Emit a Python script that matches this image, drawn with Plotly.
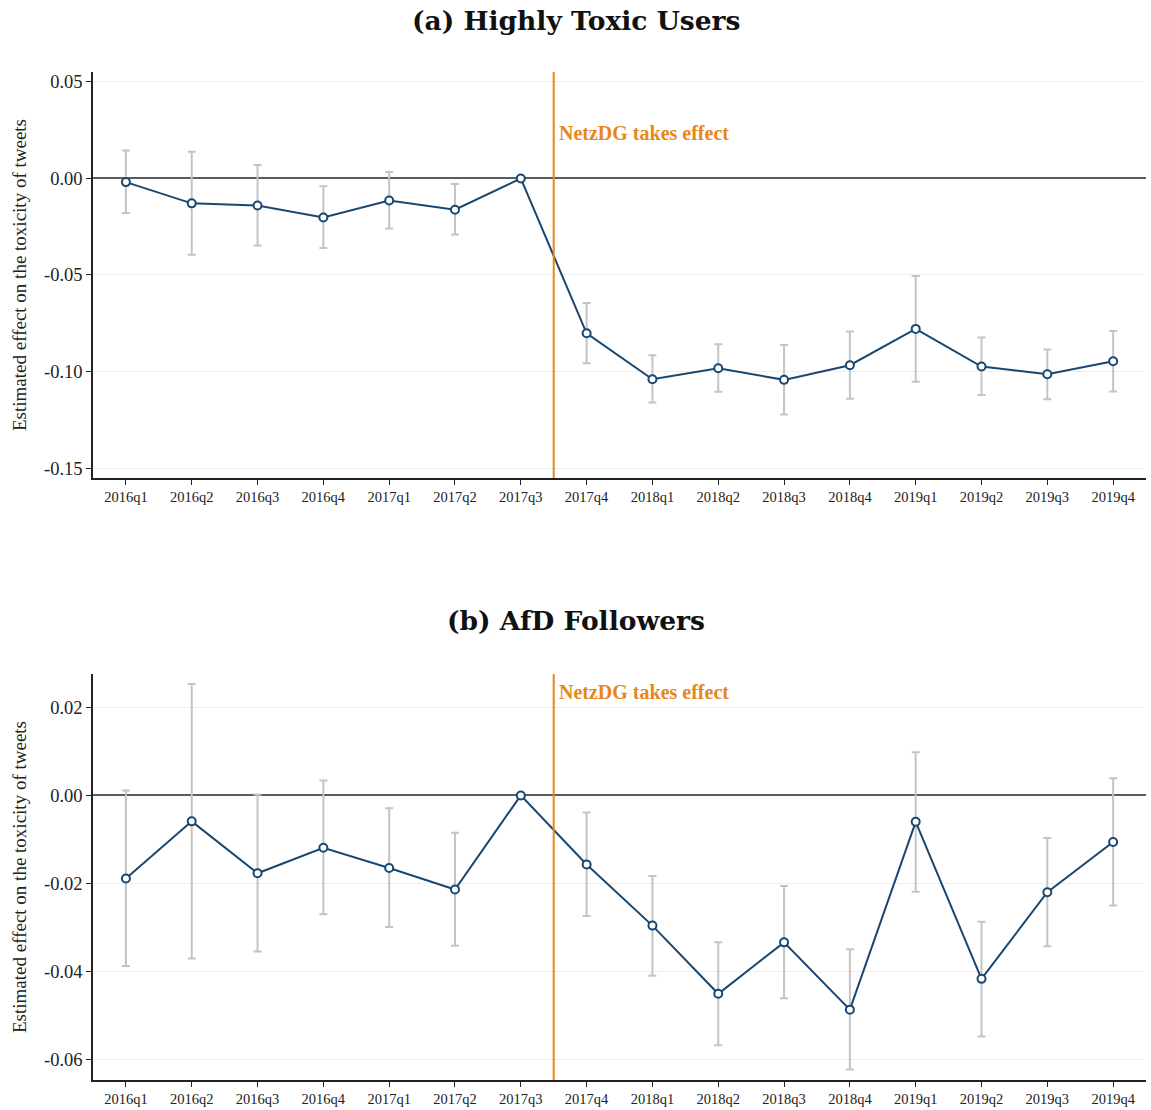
import plotly.graph_objects as go

# Quarters on the x axis
quarters = ["2016q1", "2016q2", "2016q3", "2016q4", "2017q1", "2017q2", "2017q3", "2017q4",
            "2018q1", "2018q2", "2018q3", "2018q4", "2019q1", "2019q2", "2019q3", "2019q4"]

# (a) Highly toxic users: point estimates and 95% CI bounds
toxic_coef = [-0.0019, -0.0129, -0.0140, -0.0202, -0.0114, -0.0162, 0.0,
              -0.0802, -0.1040, -0.0983, -0.1043, -0.0967, -0.0779, -0.0974, -0.1014, -0.0947]
toxic_hi = [0.0145, 0.0138, 0.0069, -0.0040, 0.0034, -0.0029, 0.0,
            -0.0645, -0.0916, -0.0859, -0.0862, -0.0793, -0.0505, -0.0824, -0.0886, -0.0790]
toxic_lo = [-0.0179, -0.0395, -0.0347, -0.0360, -0.0259, -0.0290, 0.0,
            -0.0957, -0.1160, -0.1105, -0.1222, -0.1141, -0.1053, -0.1121, -0.1143, -0.1103]

# (b) AfD followers: point estimates and 95% CI bounds
afd_coef = [-0.0189, -0.0059, -0.0177, -0.0119, -0.0165, -0.0214, 0.0,
            -0.0157, -0.0296, -0.0451, -0.0334, -0.0487, -0.0060, -0.0417, -0.0220, -0.0106]
afd_hi = [0.0011, 0.0253, 0.0002, 0.0034, -0.0029, -0.0085, 0.0,
          -0.0039, -0.0183, -0.0334, -0.0206, -0.0350, 0.0098, -0.0287, -0.0097, 0.0039]
afd_lo = [-0.0388, -0.0371, -0.0355, -0.0270, -0.0299, -0.0342, 0.0,
          -0.0274, -0.0410, -0.0568, -0.0461, -0.0623, -0.0219, -0.0548, -0.0343, -0.0250]

toxic_ticks = [-0.15, -0.10, -0.05, 0.00, 0.05]
afd_ticks = [-0.06, -0.04, -0.02, 0.00, 0.02]

# Treatment happens between 2017q3 and 2017q4
event_pos = 6.5
event_label = "NetzDG takes effect"

NAVY = "#1a476f"
GREY_CI = "#c4c4c4"
ORANGE = "#e8861a"
GRID = "#e9f1f2"
SERIF = "Liberation Serif, serif"
TITLE_FONT = "DejaVu Serif, serif"

xs = list(range(len(quarters)))

fig = go.Figure()

panels = [
    ("x", "y", toxic_coef, toxic_hi, toxic_lo),
    ("x2", "y2", afd_coef, afd_hi, afd_lo),
]

for xa, ya, coef, hi, lo in panels:
    err_plus = [h - c for h, c in zip(hi, coef)]
    err_minus = [c - l for c, l in zip(coef, lo)]
    # confidence intervals (drawn underneath the estimates)
    fig.add_trace(go.Scatter(
        x=xs, y=coef, xaxis=xa, yaxis=ya, mode="markers",
        marker=dict(size=1, opacity=0),
        error_y=dict(type="data", symmetric=False, array=err_plus, arrayminus=err_minus,
                     color=GREY_CI, thickness=2, width=4),
        showlegend=False, hoverinfo="skip",
    ))
    # point estimates
    fig.add_trace(go.Scatter(
        x=xs, y=coef, xaxis=xa, yaxis=ya, mode="lines+markers",
        line=dict(color=NAVY, width=2),
        marker=dict(symbol="circle", size=8, color="white", line=dict(color=NAVY, width=2)),
        showlegend=False,
    ))

axis_common = dict(
    showline=True, linecolor="#222222", linewidth=1.5, ticks="outside",
    ticklen=5, tickcolor="#222222", tickwidth=1.2,
)
xfont = dict(family=SERIF, size=14.5, color="#222222")
yfont = dict(family=SERIF, size=18.5, color="#222222")
ytitle = dict(text="Estimated effect on the toxicity of tweets",
              font=dict(family=SERIF, size=19, color="#222222"), standoff=12)
# zero reference line: above the grid, beneath the data
yzero = dict(zeroline=True, zerolinecolor="#5c5c5c", zerolinewidth=2)

fig.update_layout(
    width=1151, height=1110, margin=dict(l=0, r=0, t=0, b=0),
    paper_bgcolor="white", plot_bgcolor="white",
    xaxis=dict(domain=[0.0808, 0.9957], anchor="y", range=[-0.5, 15.5], zeroline=False,
               tickvals=xs, ticktext=quarters, showgrid=False, tickfont=xfont, **axis_common),
    yaxis=dict(domain=[0.5694, 0.9351], anchor="x", range=[-0.1551, 0.0551],
               tickvals=toxic_ticks, ticktext=[f"{v:.2f}" for v in toxic_ticks],
               showgrid=True, gridcolor=GRID, gridwidth=1.2, tickfont=yfont,
               title=ytitle, **yzero, **axis_common),
    xaxis2=dict(domain=[0.0808, 0.9957], anchor="y2", range=[-0.5, 15.5], zeroline=False,
                tickvals=xs, ticktext=quarters, showgrid=False, tickfont=xfont, **axis_common),
    yaxis2=dict(domain=[0.0270, 0.3928], anchor="x2", range=[-0.0647, 0.0276],
                tickvals=afd_ticks, ticktext=[f"{v:.2f}" for v in afd_ticks],
                showgrid=True, gridcolor=GRID, gridwidth=1.2, tickfont=yfont,
                title=ytitle, **yzero, **axis_common),
)

for xa, ya, label_y in [("x", "y", 0.0234), ("x2", "y2", 0.0236)]:
    # policy date marker
    fig.add_shape(type="line", xref=xa, yref=f"{ya} domain", x0=event_pos, x1=event_pos,
                  y0=0, y1=1, line=dict(color=ORANGE, width=2), layer="above")
    fig.add_annotation(x=event_pos, y=label_y, xref=xa, yref=ya, text=f"<b>{event_label}</b>",
                       showarrow=False, xanchor="left", yanchor="middle", xshift=3,
                       font=dict(family=SERIF, size=20, color=ORANGE))

# panel titles
fig.add_annotation(x=0.5, y=1 - 20 / 1110, xref="paper", yref="paper",
                   text="<b>(a) Highly Toxic Users</b>", showarrow=False,
                   xanchor="center", yanchor="middle",
                   font=dict(family=TITLE_FONT, size=26.5, color="#111111"))
fig.add_annotation(x=0.5, y=1 - 621 / 1110, xref="paper", yref="paper",
                   text="<b>(b) AfD Followers</b>", showarrow=False,
                   xanchor="center", yanchor="middle",
                   font=dict(family=TITLE_FONT, size=26.5, color="#111111"))

fig.write_html("out.html")
